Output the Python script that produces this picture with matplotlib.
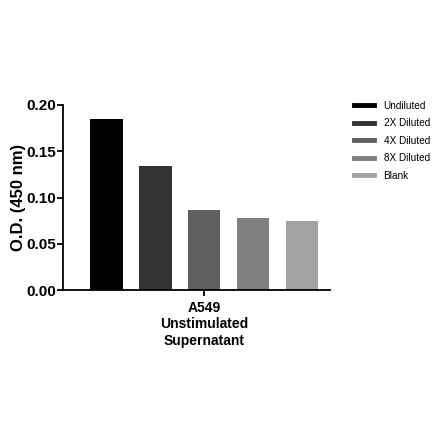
import numpy as np
import matplotlib.pyplot as plt
from matplotlib.lines import Line2D

labels = ['Undiluted', '2X Diluted', '4X Diluted', '8X Diluted', 'Blank']
values = [0.185, 0.134, 0.0865, 0.078, 0.0743]
colors = ['#000000', '#333333', '#606060', '#808080', '#a2a2a4']

plt.rcParams['font.family'] = ['Liberation Sans', 'DejaVu Sans']

fig = plt.figure(figsize=(4.40, 4.41), dpi=100)
ax = fig.add_axes([0.143, 0.342, 0.607, 0.420])

x = np.arange(len(values))
ax.bar(x, values, width=0.66, color=colors)

ax.set_xlim(-0.89, 4.57)
ax.set_ylim(0, 0.20)
ax.set_yticks([0.00, 0.05, 0.10, 0.15, 0.20])
ax.set_yticklabels(['%.2f' % v for v in [0.00, 0.05, 0.10, 0.15, 0.20]],
                   fontweight='bold', fontsize=11)
ax.set_xticks([2])
ax.set_xticklabels(['A549\nUnstimulated\nSupernatant'], fontweight='bold',
                   fontsize=10, linespacing=1.2)
ax.set_ylabel('O.D. (450 nm)', fontweight='bold', fontsize=12, labelpad=0)

for s in ['top', 'right']:
    ax.spines[s].set_visible(False)
for s in ['left', 'bottom']:
    ax.spines[s].set_linewidth(1.3)
ax.tick_params(width=1.3, length=4)
ax.tick_params(axis='y', pad=1)
ax.tick_params(axis='x', pad=4)

handles = [Line2D([0], [0], color=c, lw=3.5) for c in colors]
fig.legend(handles, labels, loc='upper left', bbox_to_anchor=(0.783, 0.792),
           frameon=False, fontsize=7.2, handlelength=2.0, labelspacing=0.75,
           handletextpad=1.0)

fig.savefig('out.png', dpi=100)
